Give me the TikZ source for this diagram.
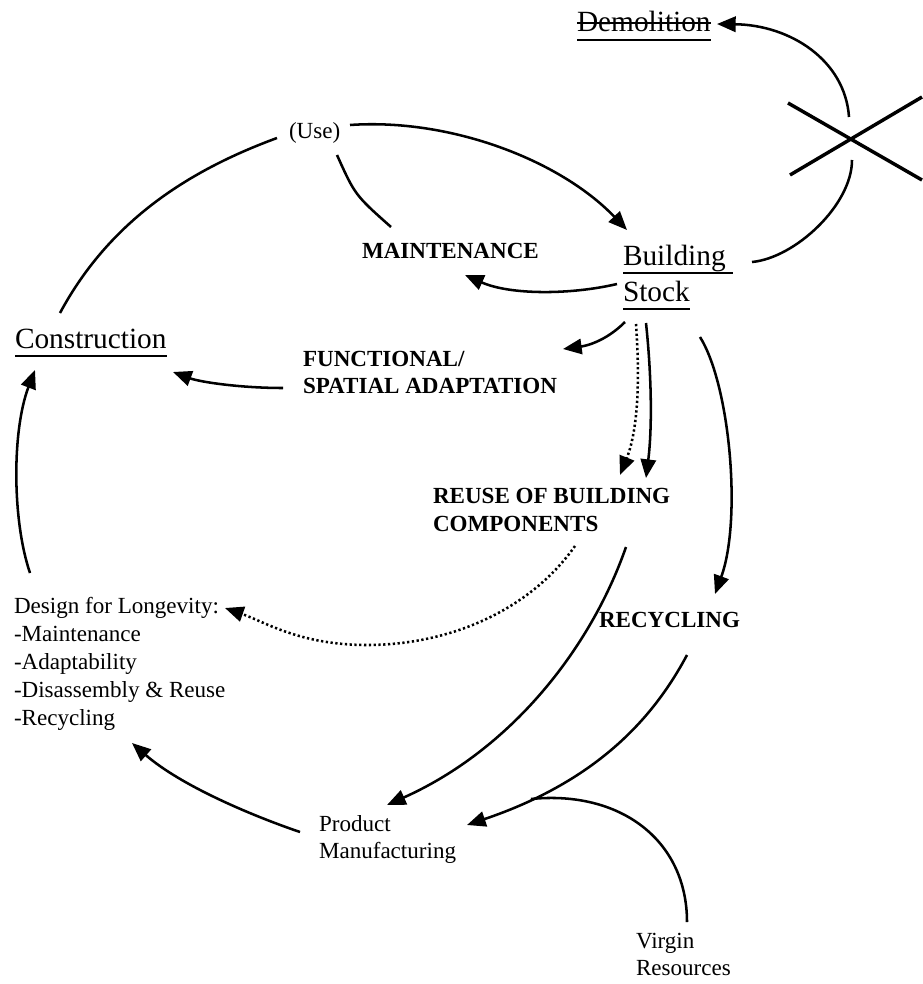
\documentclass[tikz,border=0pt]{standalone}
\usepackage{fontspec}
\setmainfont{Liberation Serif}
\usetikzlibrary{arrows.meta}
\newcommand{\bigtxt}{\fontsize{22}{27}\selectfont}
\newcommand{\smalltxt}{\fontsize{17.3}{21}\selectfont}
\newcommand{\smalltxtb}{\fontsize{17.3}{20.25}\selectfont}
\newsavebox{\ulbox}
\newcommand{\myul}[1]{\sbox{\ulbox}{#1}\rlap{\rule[-6.5pt]{\wd\ulbox}{1.3pt}}\usebox{\ulbox}}
\begin{document}
\begin{tikzpicture}[x=0.75pt,y=-0.75pt,
  txt/.style={inner sep=0pt,outer sep=0pt,anchor=base west},
  conn/.style={line width=1.9pt},
  arr/.style={conn,-{Triangle[length=14pt,width=11.5pt]}},
  dotarr/.style={arr,dash pattern=on 1.7pt off 1.9pt},
  xline/.style={line width=2.6pt},
  strike/.style={line width=1.2pt}]
\useasboundingbox (0,0) rectangle (922,984);

% ---------- nodes ----------
\node[txt] (dem) at (577,32) {\bigtxt\myul{Demolition}};
\draw[strike] ([yshift=6.75pt]dem.base west) -- ([yshift=6.75pt]dem.base east);
\node[txt] (use) at (289,139) {\smalltxt (Use)};
\node[txt] (maint) at (362,258) {\smalltxt\bfseries MAINTENANCE};
\node[txt] (bs) at (623,265) {\bigtxt\begin{tabular}[t]{@{}l@{}}\myul{Building\ }\\\myul{Stock}\end{tabular}};
\node[txt] (cons) at (15,348) {\bigtxt\myul{Construction}};
\node[txt] (func) at (303,366) {\smalltxtb\bfseries\begin{tabular}[t]{@{}l@{}}FUNCTIONAL/\\SPATIAL ADAPTATION\end{tabular}};
\node[txt] (reuse) at (433,503) {\smalltxt\bfseries\begin{tabular}[t]{@{}l@{}}REUSE OF BUILDING\\COMPONENTS\end{tabular}};
\node[txt] (recyc) at (599,627) {\smalltxt\bfseries RECYCLING};
\node[txt] (design) at (14,613) {\smalltxt\begin{tabular}[t]{@{}l@{}}Design for Longevity:\\-Maintenance\\-Adaptability\\-Disassembly \& Reuse\\-Recycling\end{tabular}};
\node[txt] (prod) at (319,831) {\smalltxtb\begin{tabular}[t]{@{}l@{}}Product\\Manufacturing\end{tabular}};
\node[txt] (virgin) at (636,948) {\smalltxtb\begin{tabular}[t]{@{}l@{}}Virgin\\Resources\end{tabular}};

% ---------- connector end points ----------
\coordinate (consN) at (60,313);
\coordinate (useW) at (277,138);
\coordinate (useE) at (350,125);
\coordinate (bsNW) at (627,230);
\coordinate (useS) at (337,155);
\coordinate (maintN) at (391,227);
\coordinate (bsW) at (617,284);
\coordinate (maintE) at (465,275);
\coordinate (bsS1) at (625,322);
\coordinate (funcNE) at (563,349);
\coordinate (funcW) at (283,388);
\coordinate (consE) at (173,372);
\coordinate (bsS2) at (636,324);
\coordinate (reuseN1) at (620,475);
\coordinate (bsS3) at (646,323);
\coordinate (reuseN2) at (646,478);
\coordinate (bsS4) at (700,337);
\coordinate (recycN) at (715,594);
\coordinate (reuseS1) at (575,546);
\coordinate (designE) at (225,608);
\coordinate (reuseS2) at (626,547);
\coordinate (prodN) at (387,805);
\coordinate (recycS) at (687,655);
\coordinate (prodE) at (467,825);
\coordinate (virginN) at (687,922);
\coordinate (join) at (531,799);
\coordinate (prodW) at (300,832);
\coordinate (designS) at (132,743);
\coordinate (designN) at (30,573);
\coordinate (consS) at (35,370);
\coordinate (bsE) at (752,262);
\coordinate (xBot) at (852,160);
\coordinate (xTop) at (849,117);
\coordinate (demE) at (717,24);

% ---------- connectors ----------
\draw[conn] (consN) .. controls (110,220) and (190,170) .. (useW);
\draw[arr] (useE) .. controls (450,118) and (560,160) .. (bsNW);
\draw[conn] (useS) .. controls (355,195) .. (maintN);
\draw[arr] (bsW) .. controls (570,295) and (510,295) .. (maintE);
\draw[arr] (bsS1) .. controls (605,342) and (585,346) .. (funcNE);
\draw[arr] (funcW) .. controls (240,388) and (200,382) .. (consE);
\draw[dotarr] (bsS2) .. controls (640,380) and (638,430) .. (reuseN1);
\draw[arr] (bsS3) .. controls (652,380) and (652,430) .. (reuseN2);
\draw[arr] (bsS4) .. controls (730,385) and (742,520) .. (recycN);
\draw[dotarr] (reuseS1) .. controls (530,610) and (450,645) .. (367,645)
   .. controls (300,645) and (265,622) .. (designE);
\draw[arr] (reuseS2) .. controls (590,650) and (510,750) .. (prodN);
\draw[arr] (recycS) .. controls (655,715) and (600,780) .. (prodE);
\draw[conn] (virginN) .. controls (687,840) and (620,790) .. (join);
\draw[arr] (prodW) .. controls (250,815) and (180,785) .. (designS);
\draw[arr] (designN) .. controls (12,520) and (12,430) .. (consS);
\draw[conn] (bsE) .. controls (795,258) and (852,205) .. (xBot);
\draw[arr] (xTop) .. controls (845,60) and (790,25) .. (demE);

% ---------- the cross ----------
\draw[xline] (788,103) -- (922,180);
\draw[xline] (790,175) -- (922,97);
\end{tikzpicture}
\end{document}
